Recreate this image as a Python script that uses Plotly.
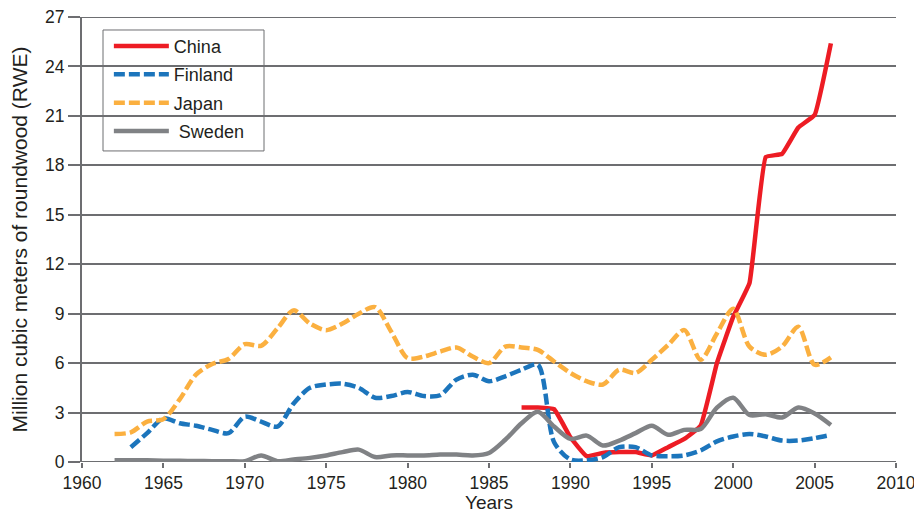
import plotly.graph_objects as go

years_japan = list(range(1962, 2007))
japan = [1.7, 1.8, 2.45, 2.6, 3.8, 5.3, 5.95, 6.25, 7.15, 7.05, 8.1, 9.2, 8.4, 8.0, 8.4, 9.0, 9.4,
         7.9, 6.3, 6.4, 6.7, 6.95, 6.4, 6.0, 7.0, 6.95, 6.8, 6.1, 5.4, 4.9, 4.7, 5.6, 5.4,
         6.2, 7.1, 8.0, 6.2, 7.8, 9.3, 7.0, 6.5, 7.0, 8.2, 5.9, 6.35]

years_finland = list(range(1963, 2007))
finland = [0.9, 1.75, 2.65, 2.35, 2.2, 1.95, 1.75, 2.75, 2.45, 2.15, 3.55, 4.5, 4.7, 4.75,
           4.5, 3.9, 4.0, 4.25, 4.0, 4.05, 5.0, 5.3, 4.9, 5.2, 5.6, 5.9, 1.2, 0.15, 0.1, 0.3,
           0.9, 0.9, 0.4, 0.35, 0.4, 0.7, 1.25, 1.55, 1.7, 1.55, 1.3, 1.3, 1.45, 1.65]

years_china = list(range(1987, 2007))
china = [3.3, 3.3, 3.2, 1.5, 0.35, 0.55, 0.6, 0.6, 0.4, 0.9, 1.4, 2.2, 6.0, 8.8, 10.85,
         18.5, 18.7, 20.3, 21.05, 25.4]

years_sweden = list(range(1962, 2007))
sweden = [0.1, 0.1, 0.1, 0.08, 0.07, 0.06, 0.05, 0.05, 0.05, 0.4, 0.05, 0.15, 0.25, 0.4,
          0.6, 0.75, 0.3, 0.4, 0.4, 0.4, 0.45, 0.45, 0.4, 0.55, 1.35, 2.35, 3.05, 2.15, 1.4,
          1.6, 1.0, 1.3, 1.75, 2.2, 1.65, 1.95, 2.0, 3.3, 3.9, 2.85, 2.9, 2.7, 3.3, 2.95, 2.25]

x_ticks = [1960, 1965, 1970, 1975, 1980, 1985, 1990, 1995, 2000, 2005, 2010]
y_ticks = [0, 3, 6, 9, 12, 15, 18, 21, 24, 27]

GRID = "#6d6e71"

fig = go.Figure()
fig.add_trace(go.Scatter(x=years_china, y=china, name="China", mode="lines", legendgroup="c",
                         line=dict(color="#ed1c24", width=4.5, shape="spline", smoothing=0.3)))
fig.add_trace(go.Scatter(x=years_finland, y=finland, name="Finland", mode="lines", legendgroup="f",
                         line=dict(color="#1c75bc", width=4.5, dash="11px,4px", shape="spline", smoothing=0.8)))
fig.add_trace(go.Scatter(x=years_japan, y=japan, name="Japan", mode="lines", legendgroup="j",
                         line=dict(color="#fbb040", width=4.5, dash="11px,4px", shape="spline", smoothing=0.8)))
fig.add_trace(go.Scatter(x=years_sweden, y=sweden, name=" Sweden", mode="lines", legendgroup="s",
                         line=dict(color="#808285", width=4.5, shape="spline", smoothing=0.8)))

# edge gridlines (plotly skips grid at the range ends)
for yv in (y_ticks[0], y_ticks[-1]):
    fig.add_shape(type="line", xref="paper", yref="y", x0=0, x1=1, y0=yv, y1=yv,
                  line=dict(color=GRID, width=2), layer="between")

# legend frame
fig.add_shape(type="rect", xref="paper", yref="paper", x0=0.0258, x1=0.2236, y0=0.699, y1=0.9708,
              line=dict(color=GRID, width=1), fillcolor="white", layer="between")

fig.update_layout(
    width=914, height=505,
    margin=dict(l=74, r=26, t=9, b=51, autoexpand=False),
    paper_bgcolor="white", plot_bgcolor="white",
    font=dict(family="Liberation Sans, Arial, sans-serif", size=17.5, color="#231f20"),
    showlegend=True,
    legend=dict(x=0.033, y=0.976, xanchor="left", yanchor="top",
                borderwidth=0, bgcolor="rgba(0,0,0,0)",
                font=dict(size=18), tracegroupgap=2, itemwidth=55),
)
fig.update_xaxes(range=[1960, 2010], tickvals=x_ticks, ticktext=[str(v) for v in x_ticks],
                 showgrid=False, zeroline=False, showline=False, automargin=False,
                 ticks="outside", ticklen=5, tickwidth=2, tickcolor=GRID, ticklabeloverflow="allow",
                 title=dict(text="Years", standoff=4, font=dict(size=19)), tickfont=dict(size=17.5))
fig.update_yaxes(range=[0, 27], tickvals=y_ticks, ticktext=[str(v) for v in y_ticks],
                 showgrid=True, gridcolor=GRID, gridwidth=2, zeroline=False, automargin=False,
                 showline=True, linecolor=GRID, linewidth=2, ticklabeloverflow="allow",
                 ticks="outside", ticklen=12, tickwidth=2, tickcolor=GRID,
                 title=dict(text="Million cubic meters of roundwood (RWE)", standoff=13, font=dict(size=21)),
                 tickfont=dict(size=17.5))

fig.write_html("out.html")
